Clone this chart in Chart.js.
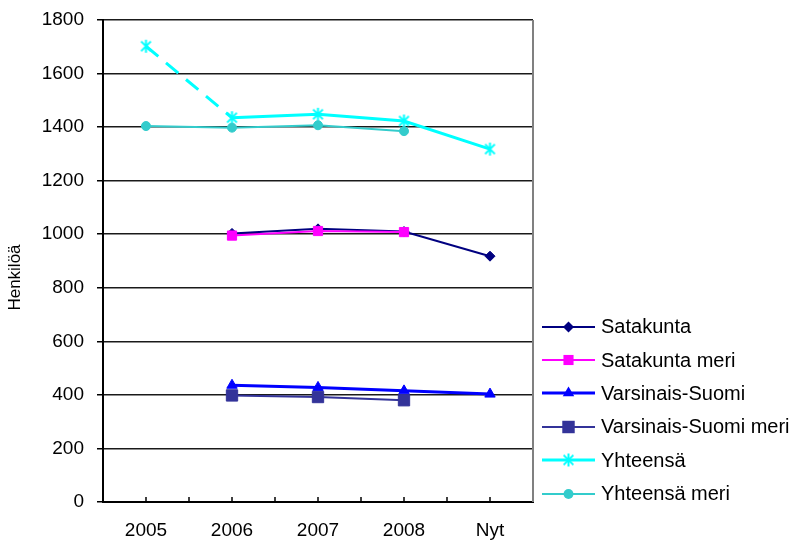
<!DOCTYPE html>
<html>
<head>
<meta charset="utf-8">
<script src="https://cdn.jsdelivr.net/npm/chart.js@4.4.1/dist/chart.umd.min.js"></script>
<style>
  body { margin: 0; background: #fff; }
  #wrap { position: relative; width: 798px; height: 540px; }
  #legend { position: absolute; left: 540px; top: 310px; font-family: "Liberation Sans", Arial, sans-serif; font-size: 20px; color: #000; }
  .row { height: 33.4px; display: flex; align-items: center; white-space: nowrap; }
  .row canvas { margin-right: 5px; }
</style>
</head>
<body>
<div id="wrap">
  <canvas id="myChart" width="798" height="540"></canvas>
  <div id="legend"></div>
</div>
<script>
// data
var years = ['2005', '2006', '2007', '2008', 'Nyt'];
var satakunta = [null, 1003, 1020, 1010, 918];
var satakuntaMeri = [null, 995, 1012, 1008, null];
var varsinais = [null, 436, 428, 415, 403];
var varsinaisMeri = [null, 398, 392, 380, null];
var yhteensa = [1702, 1435, 1448, 1423, 1318];
var yhteensaMeri = [1404, 1398, 1407, 1385, null];
var yTicks = [0, 200, 400, 600, 800, 1000, 1200, 1400, 1600, 1800];

var FONT = '"Liberation Sans", Arial, sans-serif';

// excel style asterisk marker: X plus a vertical bar
function asterisk(color, r, lw) {
    var size = Math.ceil(r * 2 + lw + 2);
    var cv = document.createElement('canvas');
    cv.width = size; cv.height = size;
    var c = cv.getContext('2d');
    var m = size / 2, d = r * 0.75;
    c.strokeStyle = color;
    c.lineWidth = lw;
    c.beginPath();
    c.moveTo(m - d, m - d); c.lineTo(m + d, m + d);
    c.moveTo(m + d, m - d); c.lineTo(m - d, m + d);
    c.moveTo(m, m - r); c.lineTo(m, m + r);
    c.stroke();
    return cv;
}

var series = [
    { label: 'Satakunta', data: satakunta, color: '#000080', style: 'rectRot', r: 5, w: 2 },
    { label: 'Satakunta meri', data: satakuntaMeri, color: '#ff00ff', style: 'rect', r: 6.5, w: 2 },
    { label: 'Varsinais-Suomi', data: varsinais, color: '#0000ff', style: 'triangle', r: 6, w: 3 },
    { label: 'Varsinais-Suomi meri', data: varsinaisMeri, color: '#333399', style: 'rect', r: 8, w: 2 },
    { label: 'Yhteensä', data: yhteensa, color: '#00ffff', style: 'star', r: 6.5, w: 3 },
    { label: 'Yhteensä meri', data: yhteensaMeri, color: '#33cccc', style: 'circle', r: 4.5, w: 2 }
];

var starImg = asterisk('#00ffff', 6.5, 2);

var datasets = series.map(function (s, i) {
    var ds = {
        label: s.label,
        data: s.data,
        borderColor: s.color,
        backgroundColor: s.color,
        borderWidth: s.w,
        pointStyle: s.style === 'star' ? starImg : s.style,
        pointRadius: s.r,
        pointBorderWidth: 1,
        pointBorderColor: s.color,
        pointBackgroundColor: s.color,
        tension: 0,
        order: 6 - i
    };
    if (s.label === 'Yhteensä') {
        ds.segment = {
            borderDash: function (ctx) { return ctx.p0DataIndex === 0 ? [16, 10] : undefined; }
        };
    }
    return ds;
});

// excel-like extras: inner x ticks and grey right border
var frame = {
    id: 'frame',
    afterDraw: function (chart) {
        var c = chart.ctx, a = chart.chartArea, x = chart.scales.x;
        c.save();
        c.strokeStyle = '#808080';
        c.lineWidth = 2;
        c.beginPath();
        c.moveTo(a.right, a.top);
        c.lineTo(a.right, a.bottom);
        c.stroke();
        c.strokeStyle = '#000';
        c.lineWidth = 1.5;
        for (var i = 0; i < years.length; i++) {
            var p = x.getPixelForValue(i);
            var pts = [p];
            if (i < years.length - 1) pts.push((p + x.getPixelForValue(i + 1)) / 2);
            pts.forEach(function (px) {
                c.beginPath();
                c.moveTo(px, a.bottom);
                c.lineTo(px, a.bottom - 5);
                c.stroke();
            });
        }
        c.restore();
    }
};

var ctx = document.getElementById('myChart').getContext('2d');
var chart = new Chart(ctx, {
    type: 'line',
    data: { labels: years, datasets: datasets },
    options: {
        responsive: false,
        animation: false,
        layout: { padding: { top: 20, right: 265, left: 0, bottom: 0 } },
        plugins: { legend: { display: false }, tooltip: { enabled: false } },
        scales: {
            x: {
                offset: true,
                grid: { display: true, drawOnChartArea: false, drawTicks: false, offset: true },
                border: { color: '#000', width: 2 },
                ticks: { color: '#000', font: { family: FONT, size: 19 }, padding: 17, maxRotation: 0 },
                afterFit: function (s) { s.height = 38; s.paddingLeft = 0; s.paddingRight = 0; }
            },
            y: {
                min: 0,
                max: 1800,
                afterBuildTicks: function (s) { s.ticks = yTicks.map(function (v) { return { value: v }; }); },
                grid: { color: '#1a1a1a', lineWidth: 1.5, tickLength: 6, tickColor: '#000' },
                border: { color: '#000', width: 2 },
                ticks: {
                    color: '#000', font: { family: FONT, size: 19 }, padding: 13,
                    callback: function (v) { return String(v); }
                },
                title: {
                    display: true, text: 'Henkilöä\u00a0\u00a0\u00a0\u00a0\u00a0\u00a0\u00a0', color: '#000',
                    font: { family: FONT, size: 17 }, padding: { top: 5, bottom: 0 }
                },
                afterFit: function (s) { s.width = 103; s.paddingTop = 0; s.paddingBottom = 0; }
            }
        }
    },
    plugins: [frame]
});

// legend with line + marker samples
function marker(c, style, x, y, r, color) {
    c.fillStyle = color;
    c.strokeStyle = color;
    c.beginPath();
    if (style === 'rectRot') {
        c.moveTo(x, y - r); c.lineTo(x + r, y); c.lineTo(x, y + r); c.lineTo(x - r, y); c.closePath(); c.fill();
    } else if (style === 'rect') {
        var h = r * Math.SQRT1_2;
        c.fillRect(x - h, y - h, 2 * h, 2 * h);
    } else if (style === 'triangle') {
        c.moveTo(x, y - r); c.lineTo(x + r * 0.87, y + r * 0.5); c.lineTo(x - r * 0.87, y + r * 0.5); c.closePath(); c.fill();
    } else if (style === 'circle') {
        c.arc(x, y, r, 0, Math.PI * 2); c.fill();
    } else if (style === 'star') {
        c.drawImage(starImg, x - starImg.width / 2, y - starImg.height / 2);
    }
}

var legend = document.getElementById('legend');
series.forEach(function (s) {
    var row = document.createElement('div');
    row.className = 'row';
    var cv = document.createElement('canvas');
    cv.width = 56; cv.height = 20;
    var c = cv.getContext('2d');
    c.strokeStyle = s.color;
    c.lineWidth = s.w;
    c.beginPath();
    c.moveTo(2, 10); c.lineTo(55, 10);
    c.stroke();
    marker(c, s.style, 28.5, 10, s.r * 1.1, s.color);
    row.appendChild(cv);
    var t = document.createElement('span');
    t.textContent = s.label;
    row.appendChild(t);
    legend.appendChild(row);
});
</script>
</body>
</html>
